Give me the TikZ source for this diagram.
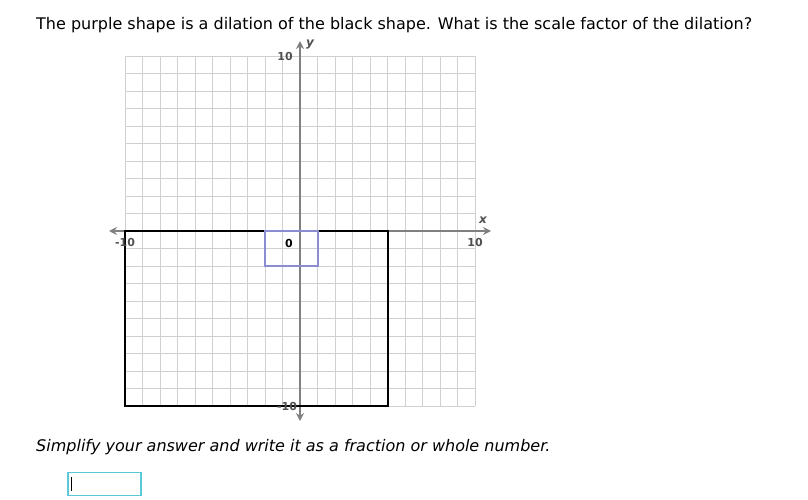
\documentclass[tikz,border=0pt]{standalone}
\usepackage{fontspec}
\setmainfont{DejaVu Sans}
\usetikzlibrary{arrows.meta}
\definecolor{gridc}{HTML}{D0D0D0}
\definecolor{axisc}{HTML}{808080}
\definecolor{purp}{HTML}{8C8CD0}
\definecolor{boxc}{HTML}{5BC8D8}
\definecolor{labc}{HTML}{505050}
\begin{document}
\begin{tikzpicture}[x=1pt,y=-1pt,
  lab/.style={font=\fontsize{11}{12}\selectfont\bfseries, text=labc, inner sep=0pt},
  axisline/.style={draw=axisc, line width=2pt, -{Stealth[length=8pt,width=8pt]}}]
\useasboundingbox (0,0) rectangle (808,500);
\fill[white] (0,0) rectangle (808,500);
% title
\node[anchor=west, inner sep=0pt, font=\fontsize{16}{18}\selectfont] (title) at (36,25)
  {The purple shape is a dilation of the black shape. What is the scale factor of the dilation?};
% grid
\foreach \i in {0,...,20} {
  \draw[gridc, line width=0.8pt] (125+\i*17.5,56) -- (125+\i*17.5,406);
  \draw[gridc, line width=0.8pt] (125,56+\i*17.5) -- (475,56+\i*17.5);
}
% axes
\coordinate (xl) at (109,231);
\coordinate (xr) at (491,231);
\coordinate (yt) at (300,41);
\coordinate (yb) at (300,421);
\draw[axisline] (300,231) -- (xr);
\draw[axisline] (300,231) -- (xl);
\draw[axisline] (300,231) -- (yt);
\draw[axisline] (300,231) -- (yb);
% shapes
\draw[black, line width=1.8pt] (125,231) rectangle (388,406);
\draw[purp, line width=1.4pt] (265,231) rectangle (318,266);
% labels
\node[lab] (l10t) at (285,56) {10};
\node[lab, font=\fontsize{12}{13}\selectfont\bfseries\itshape] (ly) at (310,45) {y};
\node[lab, font=\fontsize{12}{13}\selectfont\bfseries\itshape] (lx) at (483,220) {x};
\node[lab] (lm10) at (125,242) {-10};
\node[lab] (l10r) at (475,242) {10};
\node[lab, text=black] (l0) at (289,243) {0};
\node[lab] (lm10b) at (287,406) {-10};
% second text
\node[anchor=west, inner sep=0pt, font=\fontsize{16}{18}\selectfont\itshape] (hint) at (36,447)
  {Simplify your answer and write it as a fraction or whole number.};
% answer box
\node[draw=boxc, line width=1.5pt, minimum width=73pt, minimum height=23pt, inner sep=0pt] (ans) at (104.5,484) {};
\draw[black, line width=1pt] ([xshift=4pt,yshift=-5pt]ans.north west) -- ([xshift=4pt,yshift=5pt]ans.south west);
\end{tikzpicture}
\end{document}
